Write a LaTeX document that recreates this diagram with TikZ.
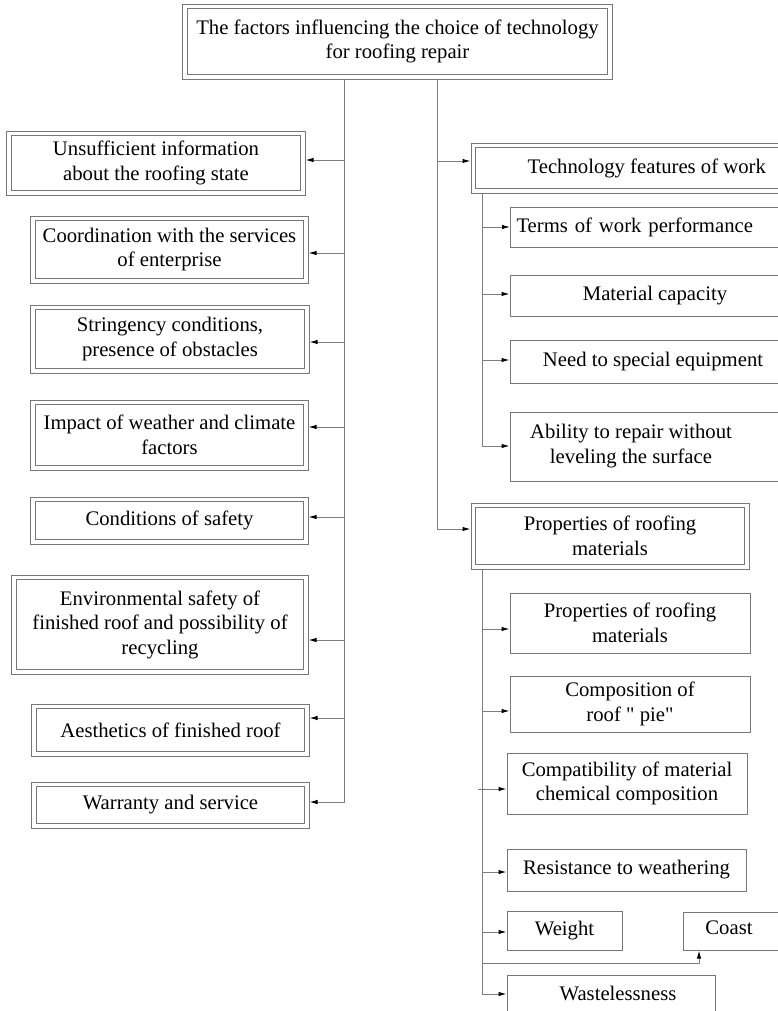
\documentclass[tikz,border=0pt]{standalone}
\usepackage{fontspec}
\setmainfont{Liberation Serif}[Ligatures=TeXOff]
\usetikzlibrary{arrows.meta}
\definecolor{boxgray}{RGB}{120,120,120}
\definecolor{linegray}{RGB}{125,125,125}
\newcommand\fsz{\fontsize{20.7bp}{24.5bp}\selectfont}
\tikzset{
  dbox/.style={draw=boxgray, line width=1bp, inner sep=0pt, align=center, font=\fsz},
  sbox/.style={draw=boxgray, line width=1bp, inner sep=0pt, align=center, font=\fsz},
  innerline/.style={draw=boxgray, line width=1bp},
  conn/.style={draw=linegray, line width=1bp},
  arr/.style={conn, -{Latex[length=8bp,width=4.5bp,black]}},
  txt/.style={font=\fsz, align=center, inner sep=0pt}
}
\begin{document}
\begin{tikzpicture}[x=1bp,y=-1bp]
\useasboundingbox (0,0) rectangle (778,1011);
\clip (0,0) rectangle (778,1011);
\fill[white] (0,0) rectangle (778,1011);

% top
\node[dbox, minimum width=429bp, minimum height=75bp] (top) at (397.5,41.5) {The factors influencing the choice of technology\\for roofing repair};

% left column
\node[dbox, minimum width=298bp, minimum height=64bp] (b1) at (156,163) {Unsufficient information\\about the roofing state};
\node[dbox, minimum width=277bp, minimum height=67bp] (b2) at (169.5,249.5) {Coordination with the services\\of enterprise};
\node[dbox, minimum width=278bp, minimum height=68bp] (b3) at (170,339) {Stringency conditions,\\presence of obstacles};
\node[dbox, minimum width=277bp, minimum height=70bp] (b4) at (169.5,435) {Impact of weather and climate\\factors};
\node[dbox, minimum width=277bp, minimum height=47bp] (b5) at (169.5,520.5) {Conditions of safety};
\node[dbox, minimum width=296bp, minimum height=99bp] (b6) at (160,624.5) {Environmental safety of\\finished roof and possibility of\\recycling};
\node[dbox, minimum width=277bp, minimum height=52bp] (b7) at (170.5,730) {Aesthetics of finished roof};
\node[dbox, minimum width=277bp, minimum height=46bp] (b8) at (170.5,805) {Warranty and service};

% right column
\node[dbox, minimum width=351.5bp, minimum height=50bp] (tech) at (646.75,168) {Technology features of work};
\node[sbox, anchor=west, minimum height=40bp, text width=300bp, inner xsep=6bp, align=left] (terms) at (510,227) {Terms of work performance};
\node[sbox, minimum width=290bp, minimum height=41bp] (mat) at (655,295.5) {Material capacity};
\node[sbox, minimum width=286bp, minimum height=43bp] (need) at (653,361.5) {Need to special equipment};
\node[sbox, minimum width=310bp, minimum height=69bp] (abil) at (665,446.5) {};
\node[txt] (abilt) at (631,446) {Ability to repair without\\leveling the surface};

\node[dbox, minimum width=278bp, minimum height=66bp] (props) at (610,536) {Properties of roofing\\materials};
\node[sbox, minimum width=240bp, minimum height=60bp] (p1) at (630,623) {Properties of roofing\\materials};
\node[sbox, minimum width=240bp, minimum height=56bp] (p2) at (630,704) {Composition of\\roof " pie"};
\node[sbox, minimum width=240bp, minimum height=61bp] (p3) at (627,783.5) {Compatibility of material\\chemical composition};
\node[sbox, minimum width=239bp, minimum height=42bp] (p4) at (626.5,870) {Resistance to weathering};
\node[sbox, minimum width=115bp, minimum height=39bp] (p5) at (564.5,930.5) {Weight};
\node[sbox, minimum width=137bp, minimum height=38bp] (coast) at (751.5,931) {};
\node[txt] (coastt) at (729,928) {Coast};
\node[sbox, minimum width=208bp, minimum height=55bp] (waste) at (611,1002.5) {};
\node[txt] (wastet) at (618,993) {Wastelessness};

% inner borders of the double boxes
\foreach \n in {top,b1,b2,b3,b4,b5,b6,b7,b8,tech,props}
  \draw[innerline] ([xshift=5bp,yshift=-5bp]\n.north west) rectangle ([xshift=-5bp,yshift=5bp]\n.south east);

% trunk coordinates
\coordinate (Lend) at (344.5,802);
\coordinate (Rend) at (437,529);
\coordinate (S1end) at (482,446);
\coordinate (S2end) at (482,994);
\coordinate (Cbend) at (699,963);

% left trunk
\draw[conn] (top.south -| Lend) -- (Lend);
\draw[arr] ([yshift=3bp]b1.east -| Lend) -- ([yshift=3bp]b1.east);
\draw[arr] ([yshift=-3.5bp]b2.east -| Lend) -- ([yshift=-3.5bp]b2.east);
\draw[arr] ([yshift=-3bp]b3.east -| Lend) -- ([yshift=-3bp]b3.east);
\draw[arr] ([yshift=8bp]b4.east -| Lend) -- ([yshift=8bp]b4.east);
\draw[arr] ([yshift=3.5bp]b5.east -| Lend) -- ([yshift=3.5bp]b5.east);
\draw[arr] ([yshift=-15.5bp]b6.east -| Lend) -- ([yshift=-15.5bp]b6.east);
\draw[arr] ([yshift=12bp]b7.east -| Lend) -- ([yshift=12bp]b7.east);
\draw[arr] (Lend) -- (b8.east |- Lend);

% right trunk
\draw[conn] (top.south -| Rend) -- (Rend);
\draw[arr] ([yshift=7bp]tech.west -| Rend) -- ([yshift=7bp]tech.west);
\draw[arr] (Rend) -- (props.west |- Rend);

% technology sub-trunk
\draw[conn] (tech.south -| S1end) -- (S1end);
\draw[arr] (terms.west -| S1end) -- (terms.west);
\draw[arr] ([yshift=1.5bp]mat.west -| S1end) -- ([yshift=1.5bp]mat.west);
\draw[arr] ([yshift=1.5bp]need.west -| S1end) -- ([yshift=1.5bp]need.west);
\draw[arr] (S1end) -- (abil.west |- S1end);

% properties sub-trunk
\draw[conn] (props.south -| S2end) -- (S2end);
\draw[arr] ([yshift=-6bp]p1.west -| S2end) -- ([yshift=-6bp]p1.west);
\draw[arr] ([yshift=-7bp]p2.west -| S2end) -- ([yshift=-7bp]p2.west);
\draw[arr] ([yshift=-5.5bp]p3.west -| S2end) ++(-4,0) -- ([yshift=-5.5bp]p3.west);
\draw[arr] ([yshift=-2bp]p4.west -| S2end) -- ([yshift=-2bp]p4.west);
\draw[arr] ([yshift=-1.5bp]p5.west -| S2end) -- ([yshift=-1.5bp]p5.west);
\draw[arr] (S2end |- Cbend) -- (Cbend) -- (coast.south -| Cbend);
\draw[arr] (S2end) -- (waste.west |- S2end);
\end{tikzpicture}
\end{document}
